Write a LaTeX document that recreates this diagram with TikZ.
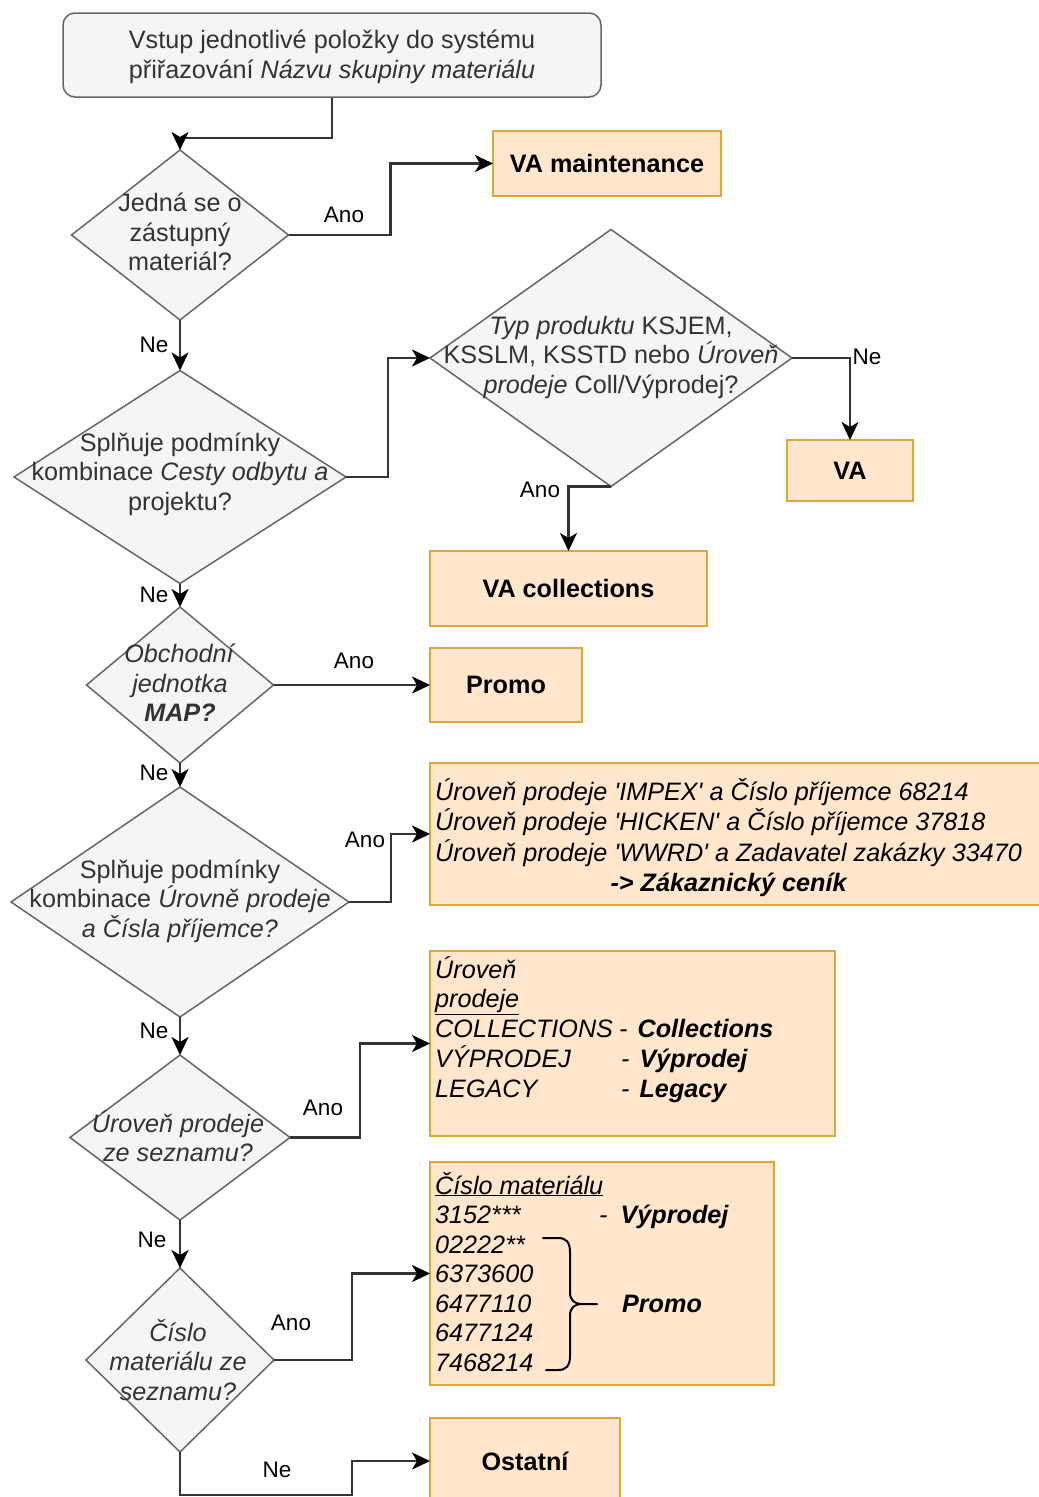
\documentclass[tikz,border=0pt]{standalone}
\usepackage{fontspec}
\setmainfont{Liberation Sans}[Ligatures=TeXOff]
\usetikzlibrary{arrows.meta,shapes.geometric}

\definecolor{grayfill}{HTML}{F5F5F5}
\definecolor{graydraw}{HTML}{666666}
\definecolor{graytext}{HTML}{333333}
\definecolor{orfill}{HTML}{FFE6CC}
\definecolor{ordraw}{HTML}{DCA936}
\definecolor{edgecol}{HTML}{333333}

\newcommand{\bodyfont}{\fontsize{25.2pt}{29.5pt}\selectfont}
\newcommand{\labfont}{\fontsize{22.5pt}{26pt}\selectfont}

\begin{document}
\begin{tikzpicture}[x=1pt,y=-1pt,
  startbox/.style={draw=graydraw, fill=grayfill, line width=1.5pt, rounded corners=12pt,
    inner sep=0pt},
  dia/.style n args={2}{diamond, draw=graydraw, fill=grayfill, line width=1.5pt,
    inner sep=0pt, outer sep=0pt, minimum width=#1, minimum height=#2},
  dtext/.style={text=graytext, align=center, font=\bodyfont, inner sep=0pt},
  obox/.style={draw=ordraw, fill=orfill, line width=2pt, inner sep=0pt, outer sep=0pt,
    font=\bodyfont\bfseries, text=black},
  otext/.style={text=black, font=\bodyfont\itshape, inner sep=0pt},
  arr/.style={draw=edgecol, line width=2.5pt,
    -{Stealth[length=18pt,width=17pt,inset=5pt,color=black]}},
  lab/.style={font=\labfont, text=black, inner sep=0pt}]

\useasboundingbox[fill=white] (0,0) rectangle (1039,1497);

% start of the flow
\node[startbox, minimum width=538pt, minimum height=84pt] (start) at (332,55) {};
\node[dtext] (tstart) at (332,57)
  {Vstup jednotlivé položky do systému\\přiřazování \textit{Názvu skupiny materiálu}};

% decisions
\node[dia={217pt}{170pt}] (d1) at (180,235) {};
\node[dtext] (t1) at (180,232) {Jedná se o\\zástupný\\materiál?};

\node[dia={332pt}{213pt}] (d2) at (180,477) {};
\node[dtext] (t2) at (180,474) {Splňuje podmínky\\kombinace \textit{Cesty odbytu a}\\projektu?};

\node[dia={362pt}{257pt}] (d3) at (611,358) {};
\node[dtext] (t3) at (611,357) {\textit{Typ produktu} KSJEM,\\KSSLM, KSSTD nebo \textit{Úroveň}\\\textit{prodeje} Coll/Výprodej?};

\node[dia={187pt}{156pt}] (d4) at (180,685) {};
\node[dtext] (t4) at (180,683) {\textit{Obchodní}\\\textit{jednotka}\\\textbf{\textit{MAP?}}};

\node[dia={338pt}{230pt}] (d5) at (180,902) {};
\node[dtext] (t5) at (180,901) {Splňuje podmínky\\kombinace \textit{Úrovně prodeje}\\\textit{a Čísla příjemce?}};

\node[dia={220pt}{165pt}] (d6) at (180,1137.5) {};
\node[dtext, font=\bodyfont\itshape] (t6) at (178,1136) {Úroveň prodeje\\ze seznamu?};

\node[dia={188pt}{184pt}] (d7) at (180,1360) {};
\node[dtext, font=\bodyfont\itshape] (t7) at (178,1360) {Číslo\\materiálu ze\\seznamu?};

% results
\node[obox, minimum width=228pt, minimum height=65pt] (vam) at (607,163.5) {VA maintenance};
\node[obox, minimum width=126pt, minimum height=61pt] (va) at (850,470.5) {VA};
\node[obox, minimum width=277pt, minimum height=75pt] (vac) at (568.5,588.5) {VA collections};
\node[obox, minimum width=152pt, minimum height=74pt] (promo) at (506,685) {Promo};

\node[obox, minimum width=615pt, minimum height=142pt] (cust) at (737.5,834) {};
\node[otext, anchor=base west] (tcust) at (435,800) {\begin{tabular}[t]{@{}l@{}}
Úroveň prodeje 'IMPEX' a Číslo příjemce 68214\\
Úroveň prodeje 'HICKEN' a Číslo příjemce 37818\\
Úroveň prodeje 'WWRD' a Zadavatel zakázky 33470\\
\multicolumn{1}{@{}c@{}}{\textbf{-> Zákaznický ceník}}
\end{tabular}};

\node[obox, minimum width=405pt, minimum height=185pt] (lvl) at (632.5,1043.5) {};
\node[otext, anchor=base west] (tlvl) at (435,978) {\begin{tabular}[t]{@{}l@{}}
Úroveň\\
\underline{prodeje}\\
\makebox[184pt][l]{COLLECTIONS}-\hspace{10pt}\textbf{Collections}\\
\makebox[186pt][l]{VÝPRODEJ}-\hspace{10pt}\textbf{Výprodej}\\
\makebox[186pt][l]{LEGACY}-\hspace{10pt}\textbf{Legacy}
\end{tabular}};

\node[obox, minimum width=344pt, minimum height=223pt] (mat) at (602,1273.5) {};
\node[otext, anchor=base west] (tmat) at (435,1194) {\begin{tabular}[t]{@{}l@{}}
\underline{Číslo materiálu}\\
\makebox[164pt][l]{3152***}-\hspace{13pt}\textbf{Výprodej}\\
02222**\\
6373600\\
6477110\\
6477124\\
7468214
\end{tabular}};
\draw[line width=2pt, black, line cap=round]
  (543,1238) -- (558,1238) .. controls (566,1238) and (570,1242) .. (570,1252)
  -- (570,1292) .. controls (570,1300) and (574,1304) .. (582,1304) -- (597,1304);
\draw[line width=2pt, black, line cap=round]
  (582,1304) .. controls (574,1304) and (570,1308) .. (570,1316)
  -- (570,1356) .. controls (570,1366) and (566,1370) .. (558,1370) -- (546,1370);
\node[otext, font=\bodyfont\bfseries\itshape] (tpromo) at (662,1304) {Promo};

\node[obox, minimum width=190pt, minimum height=86pt] (other) at (525,1461) {Ostatní};

% connectors
\draw[arr] (start.south) |- ([yshift=12pt]d1.north) -- (d1.north);
\draw[arr] (d1.east) -- ++(102,0) |- (vam.west);
\draw[arr] (d1.south) -- (d2.north);
\draw[arr] (d2.east) -- ++(42,0) |- (d3.west);
\draw[arr] (d3.east) -| (va.north);
\draw[arr] (d3.south) -| (vac.north);
\draw[arr] (d2.south) -- (d4.north);
\draw[arr] (d4.east) -- (promo.west);
\draw[arr] (d4.south) -- (d5.north);
\draw[arr] (d5.east) -- ++(42,0) |- (cust.west);
\draw[arr] (d5.south) -- (d6.north);
\draw[arr] (d6.east) -- ++(70,0) |- (lvl.west);
\draw[arr] (d6.south) -- (d7.north);
\draw[arr] (d7.east) -- ++(78,0) |- (mat.west);
\coordinate (bend) at (352,1495);
\draw[arr] (d7.south) |- (bend) |- (other.west);

% branch labels
\node[lab] (l1) at (344,215) {Ano};
\node[lab] (l2) at (154,345) {Ne};
\node[lab] (l3) at (867,357) {Ne};
\node[lab] (l4) at (540,490) {Ano};
\node[lab] (l5) at (154,595) {Ne};
\node[lab] (l6) at (354,661) {Ano};
\node[lab] (l7) at (154,773) {Ne};
\node[lab] (l8) at (365,840) {Ano};
\node[lab] (l9) at (154,1031) {Ne};
\node[lab] (l10) at (323,1108) {Ano};
\node[lab] (l11) at (152,1240) {Ne};
\node[lab] (l12) at (291,1323) {Ano};
\node[lab] (l13) at (277,1470) {Ne};
\end{tikzpicture}
\end{document}
